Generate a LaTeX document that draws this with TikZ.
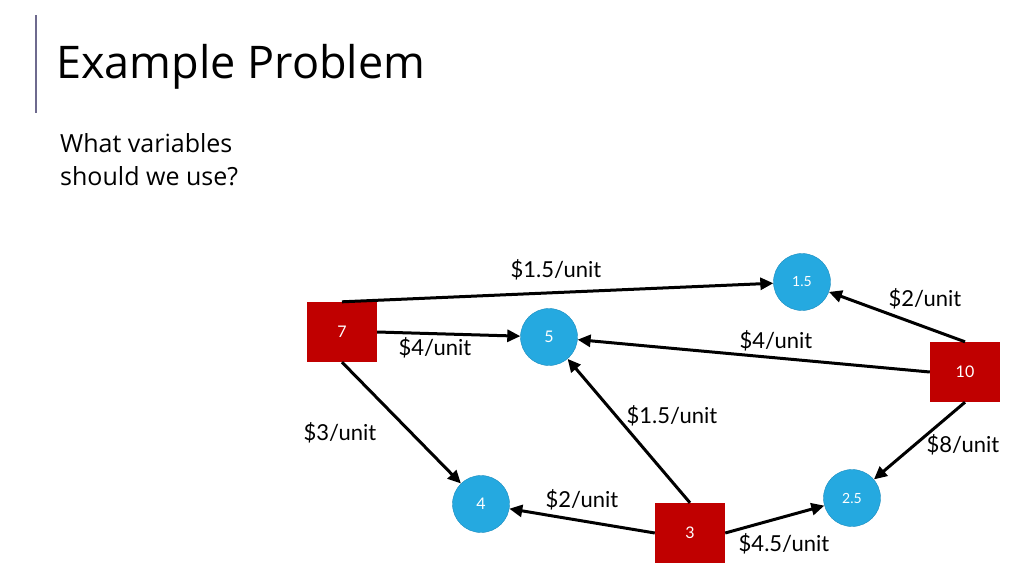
\documentclass[tikz,border=0pt]{standalone}
\usepackage{fontspec}
\setmainfont{Open Sans}
\newfontfamily\costfont{Lato}
\usetikzlibrary{positioning, arrows.meta}
\definecolor{srcred}{HTML}{C00000}
\definecolor{dstblue}{HTML}{25A9E0}
\definecolor{dstrim}{HTML}{1A8CBE}
\definecolor{barline}{HTML}{6E6A8E}

\begin{document}
\begin{tikzpicture}[x=1pt, y=-1pt,
		every edge/.style = {draw=black, line width=3pt,
			-{Triangle[length=13pt,width=12pt]}},
		src/.style = {rectangle, fill=srcred, text=white,
			minimum width=70pt, minimum height=60pt,
			font=\costfont\fontsize{16}{18}\selectfont},
		dst/.style = {circle, draw=dstrim, fill=dstblue, text=white,
			minimum size=57pt, inner sep=0pt,
			font=\costfont\fontsize{#1}{16}\selectfont},
		cost/.style = {font=\costfont\fontsize{22}{26}\selectfont, inner sep=0pt}
                    ]
		\useasboundingbox (0,0) rectangle (1024,576);
		\draw[barline, line width=1.5pt] (36,15) -- (36,113);
		\node(title) [anchor=base west, inner sep=0pt,
			font=\fontsize{45}{50}\selectfont] at (56,78) {Example Problem};
		\node(question) [anchor=base west, inner sep=0pt, align=left,
			font=\fontsize{25}{33}\selectfont] at (60,185)
			{What variables\\should we use?};

		% supply points
		\node(S7)  [src] at (342,332) {7};
		\node(S10) [src] at (965,372) {10};
		\node(S3)  [src] at (690,533) {3};
		% demand points
		\node(D15) [dst=14] at (802,282) {1.5};
		\node(D5)  [dst=16] at (549,337) {5};
		\node(D4)  [dst=16] at (481,504) {4};
		\node(D25) [dst=14] at (852,498) {2.5};

		\path   (S7.north) edge (D15)
		        (S7.east)  edge (D5)
		        (S7.south) edge (D4)
		        (S10.north) edge (D15)
		        (S10.west)  edge (D5)
		        (S10.south) edge (D25)
		        (S3.north) edge (D5)
		        (S3.west)  edge (D4)
		        (S3.east)  edge (D25);

		\node(c1) [cost] at (556,270) {\$1.5/unit};
		\node(c2) [cost] at (435,348) {\$4/unit};
		\node(c3) [cost] at (340,433) {\$3/unit};
		\node(c4) [cost] at (925,299) {\$2/unit};
		\node(c5) [cost] at (776,341) {\$4/unit};
		\node(c6) [cost] at (672,416) {\$1.5/unit};
		\node(c7) [cost] at (963,445) {\$8/unit};
		\node(c8) [cost] at (582,500) {\$2/unit};
		\node(c9) [cost] at (784,544) {\$4.5/unit};
	\end{tikzpicture}
\end{document}
